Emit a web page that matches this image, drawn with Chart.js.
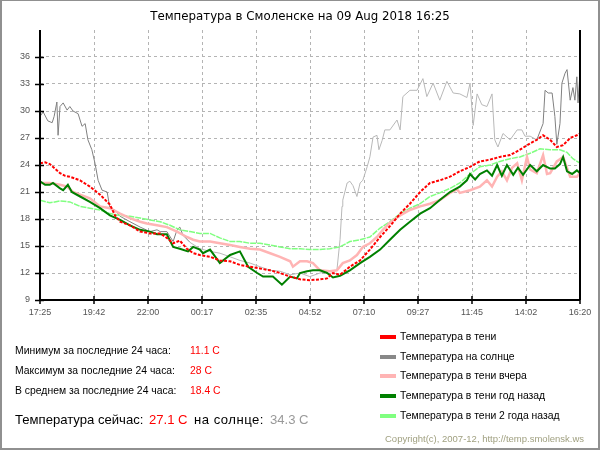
<!DOCTYPE html>
<html><head><meta charset="utf-8">
<script src="https://cdn.jsdelivr.net/npm/chart.js@4/dist/chart.umd.min.js"></script>
<style>
html,body{margin:0;padding:0;background:#fff;}
#wrap{position:relative;width:600px;height:450px;overflow:hidden;font-family:"Liberation Sans",Arial,sans-serif;}
#frame{position:absolute;left:0;top:0;width:600px;height:450px;box-sizing:border-box;border-style:solid;border-color:#909090;border-width:1px 2px 2px 2px;pointer-events:none;}
canvas{position:absolute;left:0;top:0;}
.t{position:absolute;white-space:nowrap;line-height:1;}
.sw{position:absolute;width:16px;height:4px;}
</style></head>
<body>
<div id="wrap">
<canvas id="c" width="600" height="450"></canvas>
<div class="t" id="title" style="left:0;width:600px;text-align:center;top:11px;font-family:'DejaVu Sans';font-size:11.8px;color:#000">Температура в Смоленске на 09 Aug 2018 16:25</div>

<div class="t" style="left:15px;top:346px;font-size:10.4px">Минимум за последние 24 часа:</div>
<div class="t" style="left:190px;top:346px;font-size:10.4px;color:#f00">11.1 C</div>
<div class="t" style="left:15px;top:366px;font-size:10.4px">Максимум за последние 24 часа:</div>
<div class="t" style="left:190px;top:366px;font-size:10.4px;color:#f00">28 C</div>
<div class="t" style="left:15px;top:386px;font-size:10.4px">В среднем за последние 24 часа:</div>
<div class="t" style="left:190px;top:386px;font-size:10.4px;color:#f00">18.4 C</div>

<div class="t" style="left:15px;top:413px;font-size:13.1px">Температура сейчас:</div>
<div class="t" style="left:149px;top:413px;font-size:13.1px;color:#f00">27.1 C</div>
<div class="t" style="left:194px;top:413px;font-size:13.1px;letter-spacing:0.5px">на солнце:</div>
<div class="t" style="left:270px;top:413px;font-size:13.1px;color:#999">34.3 C</div>

<div class="sw" style="left:380px;top:335px;background:#f00"></div>
<div class="t" style="left:400px;top:332px;font-size:10.4px">Температура в тени</div>
<div class="sw" style="left:380px;top:355px;background:#888"></div>
<div class="t" style="left:400px;top:352px;font-size:10.4px">Температура на солнце</div>
<div class="sw" style="left:380px;top:374px;background:#ffb4b4"></div>
<div class="t" style="left:400px;top:371px;font-size:10.4px">Температура в тени вчера</div>
<div class="sw" style="left:380px;top:394px;background:#008000"></div>
<div class="t" style="left:400px;top:391px;font-size:10.4px">Температура в тени год назад</div>
<div class="sw" style="left:380px;top:414px;background:#80ff80"></div>
<div class="t" style="left:400px;top:411px;font-size:10.4px">Температура в тени 2 года назад</div>

<div class="t" style="left:385px;top:434px;font-size:9.5px;color:#a0a080">Copyright(c), 2007-12, http://temp.smolensk.ws</div>
<div id="frame"></div>
</div>
<script>
// minutes since 17:25 on 08 Aug, temperature C
const xTickLabels = ['17:25','19:42','22:00','00:17','02:35','04:52','07:10','09:27','11:45','14:02','16:20'];
const yTickValues = [9,12,15,18,21,24,27,30,33,36];

const shadeNow = [[0,24.2],[13,24.3],[25,24.1],[38,23.6],[51,23.1],[64,22.8],[76,22.7],[102,22.3],[127,21.6],[153,20.7],
[178,19.6],[191,18.4],[204,17.7],[229,17.3],[255,16.6],[280,16.4],[306,16.4],[323,15.9],[339,15.3],[356,15.6],
[374,14.7],[390,14.2],[407,14.0],[433,13.8],[458,13.4],[484,13.3],[509,12.9],[535,12.7],[560,12.5],[586,12.3],
[611,12.0],[637,11.6],[662,11.3],[687,11.2],[713,11.3],[731,11.4],[746,12.0],[764,11.8],[789,12.7],[815,13.4],
[840,14.6],[866,16.0],[891,17.2],[917,18.6],[942,19.7],[968,21.0],[993,22.0],[1018,22.3],[1044,22.7],[1069,23.3],
[1095,23.8],[1120,24.4],[1146,24.6],[1171,24.9],[1197,25.1],[1222,25.7],[1248,26.4],[1265,26.8],[1281,27.3],[1299,26.8],
[1316,26.0],[1332,26.2],[1350,27.0],[1367,27.3],[1375,27.5]];

const sunNow = [[0,29.4],[8,29.9],[20,28.9],[31,28.7],[36,29.4],[43,31.0],[46,27.3],[51,30.5],[59,30.9],[69,30.1],
[76,30.5],[84,30.0],[97,29.7],[107,28.3],[115,28.6],[122,26.8],[132,25.7],[140,24.2],[148,22.3],[158,21.2],
[171,21.0],[178,19.2],[191,19.0],[204,18.3],[229,17.7],[255,17.1],[280,16.6],[298,16.8],[306,16.6],[323,16.6],
[339,15.5],[349,16.8],[356,17.1],[364,16.2],[382,15.4],[407,14.7],[433,14.4],[458,14.2],[484,13.8],[509,13.4],
[535,13.1],[560,12.7],[586,12.3],[611,12.2],[637,11.8],[662,12.0],[687,11.6],[713,12.0],[738,12.2],[756,12.3],
[764,15.7],[769,19.4],[771,20.1],[782,22.0],[789,22.2],[797,21.7],[807,20.5],[815,22.0],[822,22.3],[833,23.8],
[840,24.9],[848,27.1],[858,27.3],[863,25.7],[871,26.7],[878,27.9],[891,27.9],[909,29.0],[917,27.9],[924,31.6],
[942,32.3],[960,32.3],[975,33.6],[985,31.6],[1001,33.1],[1018,31.2],[1036,33.3],[1052,32.0],[1069,31.9],[1087,31.5],
[1095,33.1],[1103,28.4],[1113,31.9],[1125,30.7],[1138,30.5],[1151,31.9],[1158,26.8],[1166,26.0],[1179,27.5],[1197,26.8],
[1215,27.9],[1227,27.9],[1235,27.2],[1248,27.2],[1265,26.8],[1281,28.6],[1286,32.3],[1294,32.0],[1304,32.0],[1311,29.4],
[1316,26.3],[1324,28.6],[1329,33.1],[1337,34.2],[1342,34.6],[1350,31.2],[1357,32.6],[1362,31.2],[1367,33.8],[1370,30.9],[1375,34.3]];

const shadeYesterday = [[0,22.0],[25,22.0],[51,21.8],[69,21.6],[84,21.0],[102,20.7],[127,20.3],[153,19.4],[178,19.2],[204,18.6],
[229,18.1],[255,17.7],[272,17.5],[298,17.3],[323,17.1],[349,16.6],[374,16.0],[390,15.7],[407,15.5],[433,15.5],
[458,15.3],[484,15.1],[509,14.9],[535,14.7],[560,14.6],[586,14.2],[611,13.8],[637,13.3],[644,12.7],[662,13.3],
[680,13.3],[695,13.1],[713,12.3],[738,12.2],[756,12.3],[771,13.1],[789,13.4],[807,14.0],[822,14.9],[840,15.3],
[858,16.0],[873,16.8],[891,17.6],[917,18.4],[942,19.0],[968,19.4],[993,19.7],[1018,20.1],[1044,20.9],[1062,21.3],
[1069,20.9],[1095,21.2],[1120,21.6],[1138,22.3],[1151,21.6],[1164,22.7],[1176,23.3],[1189,22.3],[1202,23.7],[1215,24.2],
[1227,22.3],[1240,24.9],[1248,23.5],[1265,23.1],[1281,25.1],[1291,23.0],[1299,23.1],[1316,24.4],[1332,24.9],[1350,22.7],
[1367,22.7],[1375,23.1]];

const shadeYearAgo = [[0,22.2],[13,21.8],[25,21.8],[33,22.0],[51,21.4],[59,21.2],[71,21.8],[81,21.0],[102,20.5],[127,19.9],
[153,19.2],[178,18.4],[204,17.9],[229,17.3],[255,16.8],[280,16.6],[298,16.3],[323,16.3],[339,14.9],[356,14.7],
[377,14.4],[390,14.9],[407,14.6],[415,14.2],[433,14.6],[458,13.1],[484,14.0],[509,14.4],[530,12.7],[553,12.0],
[568,11.6],[593,11.6],[616,10.7],[637,11.6],[654,11.4],[662,12.0],[680,12.2],[695,12.3],[713,12.3],[731,12.0],
[746,11.5],[764,11.7],[789,12.3],[815,13.1],[840,13.8],[866,14.6],[891,15.7],[917,16.8],[942,17.7],[968,18.6],
[993,19.2],[1018,20.1],[1044,21.0],[1069,21.6],[1087,22.3],[1095,23.0],[1108,22.4],[1120,23.0],[1138,23.4],[1151,22.8],
[1164,24.0],[1176,22.8],[1189,24.0],[1205,22.9],[1217,23.7],[1230,22.9],[1248,24.0],[1265,23.3],[1281,24.0],[1299,23.6],
[1311,23.6],[1324,24.1],[1332,24.9],[1342,23.3],[1355,23.0],[1367,23.4],[1375,23.1]];

const shadeTwoYearsAgo = [[0,20.1],[25,19.8],[51,20.0],[76,19.9],[102,19.4],[127,19.2],[153,19.0],[178,18.6],[204,18.4],[229,18.3],
[255,18.1],[280,17.9],[306,17.7],[331,17.3],[356,16.8],[382,16.6],[407,16.4],[433,16.4],[458,15.9],[484,15.5],
[509,15.5],[535,15.3],[560,15.3],[586,15.1],[611,14.9],[637,14.7],[662,14.7],[687,14.6],[713,14.6],[738,14.7],
[764,14.9],[789,15.5],[815,15.7],[840,16.0],[866,17.0],[891,17.7],[917,18.6],[942,19.2],[968,19.7],[993,20.5],
[1018,20.9],[1044,21.4],[1069,22.0],[1095,23.0],[1120,23.8],[1146,24.0],[1171,24.4],[1197,24.7],[1222,24.9],[1248,25.3],
[1273,25.8],[1299,25.7],[1324,25.7],[1342,25.4],[1357,24.7],[1375,24.2]];

const toXY = arr => arr.map(([x, y]) => ({x, y}));
const xTickValues = xTickLabels.map((_, i) => i * 137.5);

const frameAxes = {
  id: 'frameAxes',
  afterDatasetsDraw(chart) {
    const {ctx, chartArea: a, scales} = chart;
    ctx.save();
    ctx.strokeStyle = '#000';
    ctx.lineWidth = 2;
    ctx.beginPath();
    ctx.moveTo(a.left, a.top); ctx.lineTo(a.left, a.bottom); ctx.lineTo(a.right, a.bottom);
    ctx.moveTo(a.right, a.top); ctx.lineTo(a.right, a.bottom);
    ctx.stroke();
    ctx.lineWidth = 1.5;
    ctx.beginPath();
    scales.y.ticks.forEach(t => {
      if (t.value > 36) return;
      const y = Math.round(scales.y.getPixelForValue(t.value)) + 0.5;
      ctx.moveTo(a.left - 5, y); ctx.lineTo(a.left + 4, y);
    });
    scales.x.ticks.forEach(t => {
      const x = Math.round(scales.x.getPixelForValue(t.value));
      ctx.moveTo(x, a.bottom - 4); ctx.lineTo(x, a.bottom + 4);
    });
    ctx.stroke();
    ctx.restore();
  }
};

const grayLight = '#b8b8b8', grayDark = '#808080';

new Chart(document.getElementById('c'), {
  type: 'line',
  data: {
    datasets: [
      {label: 'Температура в тени', data: toXY(shadeNow), borderColor: '#ff0000', borderWidth: 2, borderDash: [3, 1.5], pointRadius: 0},
      {label: 'Температура в тени год назад', data: toXY(shadeYearAgo), borderColor: '#008000', borderWidth: 2, pointRadius: 0},
      {label: 'Температура в тени вчера', data: toXY(shadeYesterday), borderColor: '#ffb4b4', borderWidth: 2.5, pointRadius: 0},
      {label: 'Температура в тени 2 года назад', data: toXY(shadeTwoYearsAgo), borderColor: '#80ff80', borderWidth: 1.5, borderDash: [6, 1], pointRadius: 0},
      {label: 'Температура на солнце', data: toXY(sunNow), borderColor: grayDark, borderWidth: 1, pointRadius: 0,
        segment: {borderColor: c => (c.p0.parsed.x >= 370 && c.p0.parsed.x < 1262) ? grayLight : grayDark}}
    ]
  },
  options: {
    responsive: false,
    animation: false,
    events: [],
    layout: {padding: {top: 30, right: 20, bottom: 130, left: 0}},
    plugins: {legend: {display: false}, title: {display: false}, tooltip: {enabled: false}},
    scales: {
      x: {
        type: 'linear', min: 0, max: 1375,
        afterBuildTicks: s => { s.ticks = xTickValues.map(v => ({value: v})); },
        afterFit: s => { s.height = 20; },
        ticks: {
          autoSkip: false, maxRotation: 0, padding: 3, color: '#555',
          font: {family: 'Liberation Sans', size: 9},
          callback: (v, i) => xTickLabels[i]
        },
        grid: {color: c => (c.index === 0 || c.index === xTickLabels.length - 1) ? 'rgba(0,0,0,0)' : '#b4b4b4', lineWidth: 1, drawTicks: true, tickLength: 4, tickColor: 'rgba(0,0,0,0)'},
        border: {display: false, dash: [3, 3]}
      },
      y: {
        type: 'linear', min: 9, max: 39,
        afterBuildTicks: s => { s.ticks = yTickValues.concat([39]).map(v => ({value: v})); },
        afterFit: s => { s.width = 40; },
        ticks: {
          padding: 5, color: '#555',
          font: {family: 'Liberation Sans', size: 9},
          callback: v => (v > 36 ? '' : String(v))
        },
        grid: {color: c => (c.tick && (c.tick.value === 9 || c.tick.value === 39)) ? 'rgba(0,0,0,0)' : '#b4b4b4', lineWidth: 1, drawTicks: true, tickLength: 5, tickColor: 'rgba(0,0,0,0)'},
        border: {display: false, dash: [3, 3]}
      }
    }
  },
  plugins: [frameAxes]
});
</script>
</body></html>
